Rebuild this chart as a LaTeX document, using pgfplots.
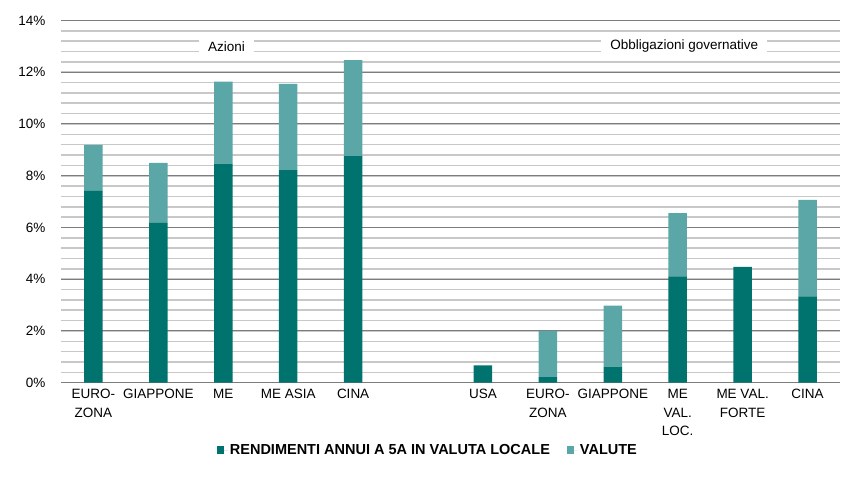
\documentclass[border=0pt]{standalone}
\usepackage{pgfplots}
\pgfplotsset{compat=1.18}
\usepackage{fontspec}
\setmainfont{Liberation Sans}
\definecolor{darkteal}{RGB}{0,115,110}
\definecolor{lightteal}{RGB}{91,166,166}
\definecolor{majgrid}{RGB}{125,125,125}
\definecolor{mingrid}{RGB}{200,200,200}
\begin{document}
\begin{tikzpicture}
\path[use as bounding box] (0,0) rectangle (850bp,479bp);
\begin{axis}[
  at={(61bp,96.3bp)}, anchor=south west,
  scale only axis, width=779bp, height=362.2bp,
  ybar stacked, bar width=18.5bp,
  xmin=-0.5, xmax=11.5, ymin=0, ymax=14,
  axis x line*=bottom, axis y line*=left,
  x axis line style={majgrid, line width=1bp, -},
  y axis line style={draw=none},
  xtick={0,1,2,3,4,6,7,8,9,10,11},
  xticklabels={{EURO-\\ZONA},GIAPPONE,ME,ME ASIA,CINA,USA,{EURO-\\ZONA},GIAPPONE,{ME\\VAL.\\LOC.},{ME VAL.\\FORTE},CINA},
  xticklabel style={align=center, font=\fontsize{13.5bp}{18.5bp}\selectfont, anchor=north, yshift=-3bp},
  major tick length=0pt, minor tick length=0pt,
  ytick={0,2,...,14},
  yticklabel=\empty,
  minor ytick={0.4,0.8,...,14},
  ymajorgrids, yminorgrids,
  major grid style={majgrid, line width=1bp},
  minor grid style={mingrid, line width=1.6bp},
  legend style={at={(0.471,-0.187)}, anchor=center, draw=none, legend columns=2,
    font=\bfseries\fontsize{14.5bp}{16bp}\selectfont},
  legend image code/.code={\fill[#1] (0bp,-3.5bp) rectangle (7.5bp,4bp); \path (0bp,0bp) -- (11bp,0bp);},
  clip=false,
]
\addplot[fill=darkteal, draw=none] coordinates {(0,7.41) (1,6.18) (2,8.47) (3,8.22) (4,8.76) (6,0.67) (7,0.22) (8,0.62) (9,4.11) (10,4.48) (11,3.34)};
\addplot[fill=lightteal, draw=none] coordinates {(0,1.78) (1,2.32) (2,3.17) (3,3.33) (4,3.71) (6,0) (7,1.78) (8,2.36) (9,2.44) (10,0) (11,3.73)};
\legend{RENDIMENTI ANNUI A 5A IN VALUTA LOCALE\hspace*{15bp}\mbox{}, VALUTE}
\node[fill=white, inner xsep=9bp, inner ysep=4bp, font=\fontsize{13.5bp}{16bp}\selectfont] at (axis cs:2.05,13.0) {Azioni};
\node[fill=white, inner xsep=9bp, inner ysep=4bp, font=\fontsize{13.5bp}{16bp}\selectfont] at (axis cs:9.1,13.0) {Obbligazioni governative};
\end{axis}
\foreach \v/\y in {0/382.7,2/331,4/279.2,6/227.5,8/175.7,10/124,12/72.3,14/20.5}{
  \node[anchor=east, font=\fontsize{13.5bp}{16bp}\selectfont] at (49bp,{479bp-\y bp}) {\v\%};
}
\end{tikzpicture}
\end{document}
